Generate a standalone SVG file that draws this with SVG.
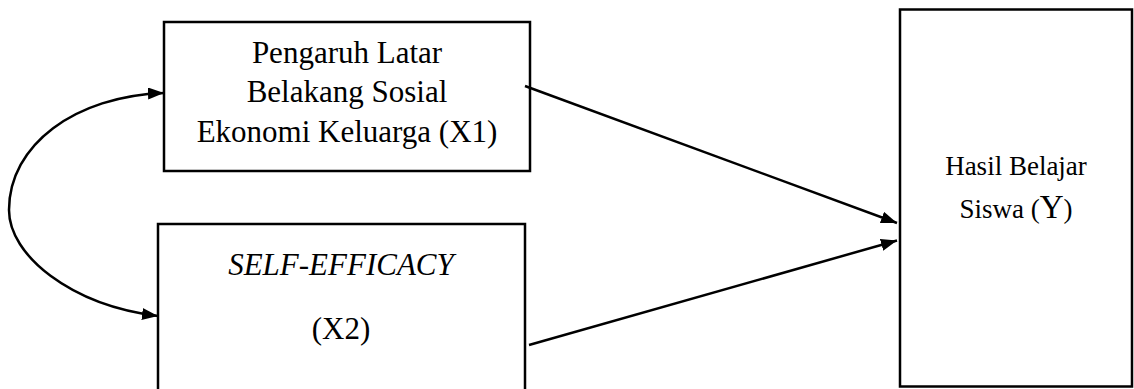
<svg xmlns="http://www.w3.org/2000/svg" width="1134" height="389" viewBox="0 0 1134 389">
  <style>
    .box { fill: #fff; stroke: #000; stroke-width: 2.5; }
    .t { font-family: "Liberation Serif", "Times New Roman", serif; fill: #000; text-anchor: middle; }
    .lbl { font-size: 31px; }
    .lbly { font-size: 27px; }
    .conn { fill: none; stroke: #000; stroke-width: 2.5; }
  </style>
  <defs>
    <marker id="ah" viewBox="0 0 16 12" refX="16" refY="6" markerWidth="16" markerHeight="12" markerUnits="userSpaceOnUse" orient="auto-start-reverse">
      <path d="M0,0 L16,6 L0,12 Z" fill="#000"/>
    </marker>
  </defs>
  <rect width="1134" height="389" fill="#fff"/>
  <g id="node-x1">
    <rect class="box" x="164" y="22" width="366" height="149"/>
    <text class="t lbl" x="347" y="63">Pengaruh Latar</text>
    <text class="t lbl" x="347" y="102">Belakang Sosial</text>
    <text class="t lbl" x="347" y="142">Ekonomi Keluarga (X1)</text>
  </g>
  <g id="node-x2">
    <rect class="box" x="158" y="224" width="367" height="180"/>
    <text class="t lbl" x="341" y="275" font-style="italic">SELF-EFFICACY</text>
    <text class="t lbl" x="341" y="339">(X2)</text>
  </g>
  <g id="node-y">
    <rect class="box" x="900" y="9.5" width="232" height="377"/>
    <text class="t lbly" x="1016" y="175">Hasil Belajar</text>
    <text class="t lbly" x="1016" y="218">Siswa (<tspan font-size="33">Y</tspan>)</text>
  </g>
  <g id="connectors">
    <path class="conn" d="M164,93 C75,96 9,145 9,210 C9,255 70,305 158,316" marker-start="url(#ah)" marker-end="url(#ah)"/>
    <line class="conn" x1="525" y1="86" x2="897" y2="223" marker-end="url(#ah)"/>
    <line class="conn" x1="529" y1="345" x2="897" y2="240.5" marker-end="url(#ah)"/>
  </g>
</svg>
